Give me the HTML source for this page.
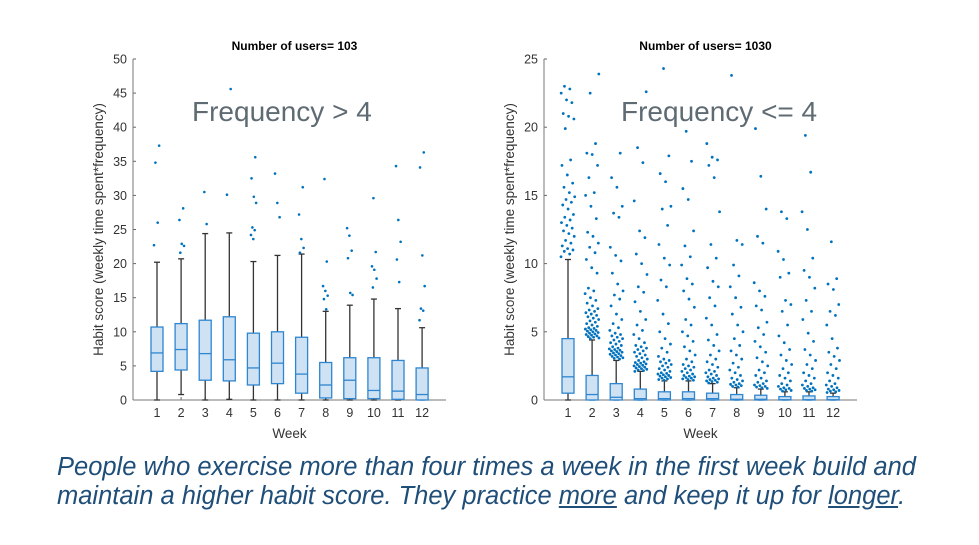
<!DOCTYPE html>
<html><head><meta charset="utf-8"><style>
html,body{margin:0;padding:0;background:#fff;}
body{width:979px;height:545px;position:relative;overflow:hidden;font-family:"Liberation Sans",sans-serif;}
.cap{position:absolute;left:57px;font-style:italic;font-size:25.5px;line-height:29px;color:#1f4e79;white-space:nowrap;}
</style></head><body>
<svg id="chart" width="979" height="545" style="position:absolute;left:0;top:0"></svg>
<div class="cap" style="top:453px">People who exercise more than four times a week in the first week build and</div>
<div class="cap" style="top:482px">maintain a higher habit score. They practice <u>more</u> and keep it up for <u>longer</u>.</div>
<script>
const weeks = [1,2,3,4,5,6,7,8,9,10,11,12];
const yTicksA = [0,5,10,15,20,25,30,35,40,45,50];
const yTicksB = [0,5,10,15,20,25];
// Chart A (frequency > 4)
const loA  = [0,0.8,0,0.1,0,0,0,0,0,0,0,0];
const q1A  = [4.2,4.4,2.9,2.8,2.2,2.4,1.0,0.3,0.2,0.2,0.1,0];
const medA = [6.9,7.4,6.8,5.9,4.7,5.4,3.8,2.2,2.9,1.4,1.3,0.8];
const q3A  = [10.7,11.2,11.7,12.2,9.8,10.0,9.2,5.5,6.2,6.2,5.8,4.7];
const hiA  = [20.2,20.7,24.4,24.5,20.3,21.2,21.4,13.0,13.9,14.8,13.4,10.6];
const outA = [
 [22.7,26,34.8,37.3],
 [21.6,22.6,22.9,26.4,28.1],
 [25.8,30.5],
 [30.1,45.6],
 [23.6,24.2,24.9,25.3,28.9,29.8,32.5,35.6],
 [26.8,28.9,33.2],
 [21.6,22.3,23.6,27.2,31.2],
 [13.3,14.8,15.3,16.0,16.7,20.3,32.4],
 [15.4,15.7,20.8,21.9,24.1,25.2],
 [16.5,17.8,19.1,19.6,21.7,29.6],
 [17.3,20.6,23.2,26.4,34.3],
 [11.7,13.1,13.4,16.7,21.2,34.1,36.3]
];
// Chart B (frequency <= 4)
const loB  = [0,0,0,0,0,0,0,0,0,0,0,0];
const q1B  = [0.5,0,0,0,0,0,0,0,0,0,0,0];
const medB = [1.7,0.4,0.2,0.1,0.1,0.1,0.1,0.05,0.05,0.02,0.02,0.02];
const q3B  = [4.5,1.8,1.2,0.8,0.6,0.6,0.5,0.4,0.35,0.25,0.3,0.25];
const hiB  = [10.3,4.4,2.9,2.1,1.4,1.4,1.2,0.9,0.8,0.6,0.6,0.5];
const outB = [
 [10.5,10.7,10.9,11.0,11.1,11.3,11.5,11.7,12.0,12.2,12.4,12.6,12.8,13.0,13.2,13.4,13.6,14.0,14.3,14.5,14.7,14.9,15.2,15.6,15.9,16.5,17.2,17.6,19.9,20.6,20.8,21.0,21.8,22.0,22.5,22.8,23.0],
 [4.5,4.55,4.6,4.65,4.7,4.75,4.8,4.85,4.9,4.95,5.0,5.05,5.1,5.15,5.2,5.25,5.3,5.4,5.5,5.6,5.7,5.8,5.9,6.0,6.1,6.2,6.3,6.4,6.5,6.6,6.7,6.9,7.1,7.3,7.5,7.8,8.0,8.2,9.3,9.7,10.3,10.8,11.2,11.5,12.0,12.3,13.3,14.2,15.0,15.2,16.3,17.2,18.0,18.1,18.8,22.5,23.9],
 [3.0,3.05,3.1,3.15,3.2,3.25,3.3,3.35,3.4,3.45,3.5,3.55,3.6,3.65,3.7,3.75,3.8,3.9,4.0,4.1,4.2,4.3,4.4,4.5,4.6,4.7,4.8,4.9,5.1,5.3,5.6,5.9,6.3,6.9,7.4,7.7,8.0,8.5,9.3,10.2,10.6,11.2,13.4,13.7,14.2,15.6,16.3,18.1],
 [2.1,2.15,2.2,2.25,2.3,2.35,2.4,2.45,2.5,2.55,2.6,2.65,2.7,2.75,2.8,2.9,3.0,3.1,3.2,3.3,3.4,3.5,3.6,3.7,3.8,3.9,4.0,4.2,4.5,4.8,5.1,5.5,5.9,6.5,7.2,7.9,8.3,9.2,10.0,10.7,11.9,12.4,14.6,17.4,18.5,22.6],
 [1.45,1.5,1.55,1.6,1.65,1.7,1.75,1.8,1.85,1.9,1.95,2.0,2.1,2.2,2.3,2.4,2.5,2.6,2.7,2.8,2.9,3.0,3.2,3.5,3.8,4.1,4.5,5.0,5.6,6.3,7.3,8.3,8.8,9.9,10.4,11.4,12.8,14.0,14.2,16.0,16.6,17.9,24.3],
 [1.45,1.5,1.55,1.6,1.65,1.7,1.75,1.8,1.9,2.0,2.1,2.2,2.3,2.4,2.5,2.6,2.8,3.0,3.3,3.6,3.9,4.3,4.7,5.0,5.5,5.9,6.8,7.4,8.0,8.5,8.9,9.9,10.5,11.3,12.4,14.7,15.5,17.5,19.7],
 [1.25,1.3,1.35,1.4,1.45,1.5,1.55,1.6,1.7,1.8,1.9,2.0,2.1,2.2,2.4,2.6,2.8,3.0,3.3,3.6,4.0,4.4,4.8,5.5,6.0,6.9,7.5,8.3,8.7,9.7,10.4,11.4,13.8,16.3,17.2,17.6,17.8,18.8],
 [0.95,1.0,1.05,1.1,1.15,1.2,1.3,1.4,1.5,1.6,1.8,2.0,2.2,2.4,2.7,3.0,3.3,3.6,4.0,4.5,5.0,5.5,6.3,6.8,7.5,8.3,9.1,9.9,11.4,11.7,23.8],
 [0.85,0.9,0.95,1.0,1.05,1.1,1.2,1.3,1.4,1.6,1.8,2.0,2.2,2.5,2.8,3.1,3.5,3.9,4.3,4.8,5.3,5.7,6.6,6.9,7.6,8.0,8.6,11.5,12.0,14.0,16.4,19.9],
 [0.65,0.7,0.75,0.8,0.85,0.9,1.0,1.1,1.2,1.4,1.6,1.8,2.0,2.3,2.6,2.9,3.3,3.7,4.2,4.7,5.5,6.5,7.0,7.3,9.0,9.3,10.3,10.9,13.3,13.8],
 [0.65,0.7,0.75,0.8,0.85,0.9,1.0,1.1,1.2,1.4,1.6,1.8,2.0,2.3,2.6,2.9,3.3,3.7,4.3,4.9,5.9,6.5,7.3,8.2,9.0,9.5,10.4,12.5,13.8,16.7,19.4],
 [0.55,0.6,0.65,0.7,0.75,0.8,0.9,1.0,1.1,1.2,1.4,1.6,1.8,2.0,2.3,2.6,2.9,3.2,3.5,3.8,4.5,5.5,6.2,6.5,7.0,8.1,8.5,8.9,11.6]
];

const NS = 'http://www.w3.org/2000/svg';
const svg = document.getElementById('chart');
function mk(tag, attrs, parent){
  const e = document.createElementNS(NS, tag);
  for (const k in attrs) e.setAttribute(k, attrs[k]);
  (parent||svg).appendChild(e);
  return e;
}
function drawChart(cfg){
  const g = mk('g', {});
  
  
  const x0 = cfg.left, x1 = cfg.right, yB = 400, yT = 59;
  const ymax = cfg.ticks[cfg.ticks.length-1];
  const ys = v => yB - v/ymax*(yB-yT);
  const xs = w => cfg.w1 + (w-1)*24.1;
  cfg.ticks.forEach(t => {
    const tl = mk('text', {x:x0-6, y:ys(t)+4.5, 'text-anchor':'end', 'font-size':12.5, fill:'#333'}, g);
    tl.textContent = t;
    
    
    mk('line', {x1:x0, x2:x0+3, y1:ys(t), y2:ys(t), stroke:'#666', 'stroke-width':1}, g);
  });
  weeks.forEach(w => {
    const tl = mk('text', {x:xs(w), y:yB+17, 'text-anchor':'middle', 'font-size':12.5, fill:'#333'}, g);
    tl.textContent = w;
    
    
    mk('line', {x1:xs(w), x2:xs(w), y1:yB, y2:yB-3, stroke:'#666'}, g);
  });
  mk('line', {x1:x0, x2:x0, y1:yT, y2:yB, stroke:'#777', 'stroke-width':1}, g);
  mk('line', {x1:x0, x2:x1, y1:yB, y2:yB, stroke:'#777', 'stroke-width':1}, g);
  const title = mk('text', {x:(x0+x1)/2+5, y:50, 'text-anchor':'middle', 'font-size':12, 'font-weight':'bold', fill:'#000'}, g);
  title.textContent = cfg.title;
  
  
  const xl = mk('text', {x:(x0+x1)/2, y:438, 'text-anchor':'middle', 'font-size':13.5, fill:'#333'}, g);
  xl.textContent = 'Week';
  
  
  const yl = mk('text', {x:0, y:0, 'text-anchor':'middle', 'font-size':13.5, fill:'#333', transform:`translate(${x0-30},${(yT+yB)/2}) rotate(-90)`}, g);
  yl.textContent = 'Habit score (weekly time spent*frequency)';
  
  
  const big = mk('text', {x:cfg.bigX, y:121, 'font-size':28, fill:'#5f6b73'}, g);
  big.textContent = cfg.big;
  
  
  weeks.forEach((w,i) => {
    const cx = xs(w), hw = 6;
    const bg = mk('g', {}, g);
    
    
    mk('line', {x1:cx, x2:cx, y1:ys(cfg.hi[i]), y2:ys(cfg.q3[i]), stroke:'#333', 'stroke-width':1.3}, bg);
    mk('line', {x1:cx, x2:cx, y1:ys(cfg.q1[i]), y2:ys(cfg.lo[i]), stroke:'#333', 'stroke-width':1.3}, bg);
    mk('line', {x1:cx-3, x2:cx+3, y1:ys(cfg.hi[i]), y2:ys(cfg.hi[i]), stroke:'#333', 'stroke-width':1.3}, bg);
    mk('line', {x1:cx-3, x2:cx+3, y1:ys(cfg.lo[i]), y2:ys(cfg.lo[i]), stroke:'#333', 'stroke-width':1.3}, bg);
    const top = ys(cfg.q3[i]), bot = ys(cfg.q1[i]);
    mk('rect', {x:cx-hw, y:top, width:hw*2, height:Math.max(bot-top,0.5), fill:'#cfe2f3', stroke:'#2e86d0', 'stroke-width':1.3}, bg);
    mk('line', {x1:cx-hw, x2:cx+hw, y1:ys(cfg.med[i]), y2:ys(cfg.med[i]), stroke:'#2e86d0', 'stroke-width':1.3}, bg);
    cfg.out[i].forEach((v,j) => {
      const jit = (((j*0.618034 + i*0.37) % 1) - 0.5) * cfg.jitter;
      const c = mk('circle', {cx:cx+jit, cy:ys(v), r:cfg.r, fill:'#0072bd'}, bg);
      
      
    });
  });
}
drawChart({name:'chart-frequency-gt-4', left:133, right:446, w1:157, ticks:yTicksA, title:'Number of users= 103', big:'Frequency > 4', bigX:192,
  lo:loA, q1:q1A, med:medA, q3:q3A, hi:hiA, out:outA, jitter:6, r:1.3});
drawChart({name:'chart-frequency-le-4', left:544, right:857, w1:568, ticks:yTicksB, title:'Number of users= 1030', big:'Frequency <= 4', bigX:621,
  lo:loB, q1:q1B, med:medB, q3:q3B, hi:hiB, out:outB, jitter:14, r:1.4});
</script>
</body></html>
